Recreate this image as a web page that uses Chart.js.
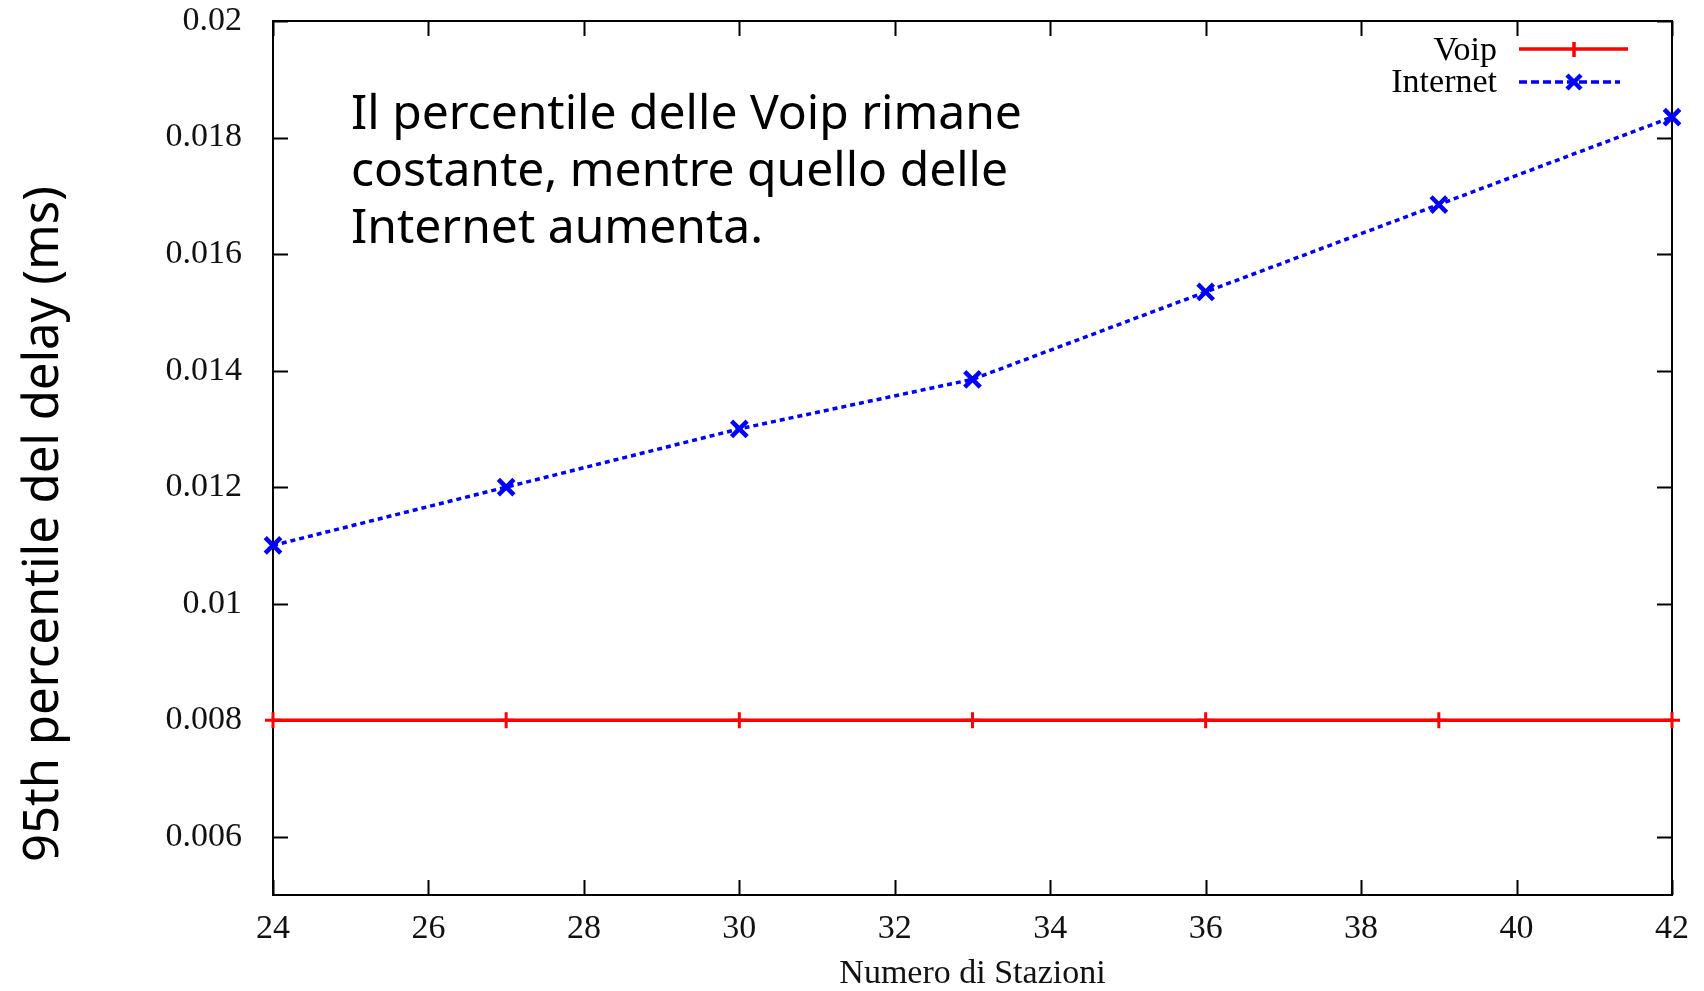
<!DOCTYPE html>
<html>
<head>
<meta charset="utf-8">
<script src="https://cdn.jsdelivr.net/npm/chart.js@4/dist/chart.umd.min.js"></script>
<style>
    html, body { margin: 0; padding: 0; background: #fff; }
    #wrap { width: 1704px; height: 991px; }
</style>
</head>
<body>
<div id="wrap"><canvas id="delay-chart" width="1704" height="991"></canvas></div>
<script>
// numero di stazioni e 95-esimo percentile del ritardo
const stazioni = [24, 27, 30, 33, 36, 39, 42];
const voipDelay = [0.008, 0.008, 0.008, 0.008, 0.008, 0.008, 0.008];
const internetDelay = [0.011, 0.012, 0.013, 0.01385, 0.01535, 0.01685, 0.01835];

const xTicks = [24, 26, 28, 30, 32, 34, 36, 38, 40, 42];
const yTicks = [0.006, 0.008, 0.01, 0.012, 0.014, 0.016, 0.018, 0.02];

const yTitle = '95th percentile del delay (ms)';
const noteLines = [
    'Il percentile delle Voip rimane',
    'costante, mentre quello delle',
    'Internet aumenta.'
];

const SERIF = '"Liberation Serif", "Times New Roman", serif';
const HAND = '"Comic Sans MS", "Noto Sans", sans-serif';

function toPoints(xs, ys) {
    return xs.map((x, i) => ({ x: x, y: ys[i] }));
}

// gnuplot-like frame with inward ticks on all four sides
const frameTicks = {
    id: 'frameTicks',
    beforeDatasetsDraw(chart) {
        const { ctx, chartArea: a, scales } = chart;
        const len = 15;
        ctx.save();
        ctx.strokeStyle = '#000';
        ctx.lineWidth = 2;
        ctx.strokeRect(a.left, a.top, a.right - a.left, a.bottom - a.top);
        ctx.beginPath();
        xTicks.forEach(v => {
            const px = Math.round(scales.x.getPixelForValue(v)) + 0.5;
            ctx.moveTo(px, a.bottom); ctx.lineTo(px, a.bottom - len);
            ctx.moveTo(px, a.top); ctx.lineTo(px, a.top + len);
        });
        yTicks.forEach(v => {
            const py = Math.round(scales.y.getPixelForValue(v)) + 0.5;
            ctx.moveTo(a.left, py); ctx.lineTo(a.left + len, py);
            ctx.moveTo(a.right, py); ctx.lineTo(a.right - len, py);
        });
        ctx.stroke();
        ctx.restore();
    }
};

// key in the top right corner: label first, then the line sample
const gnuKey = {
    id: 'gnuKey',
    afterDatasetsDraw(chart) {
        const { ctx } = chart;
        const textRight = 1497, x0 = 1519, mid = 1574;
        ctx.save();
        ctx.font = '34px ' + SERIF;
        ctx.fillStyle = '#000';
        ctx.textAlign = 'right';
        ctx.textBaseline = 'middle';
        ctx.fillText('Voip', textRight, 51);
        ctx.fillText('Internet', textRight, 83);

        ctx.strokeStyle = '#ff0000';
        ctx.lineWidth = 3.5;
        ctx.beginPath();
        ctx.moveTo(x0, 49); ctx.lineTo(1628, 49);
        ctx.moveTo(mid, 42); ctx.lineTo(mid, 57);
        ctx.stroke();

        ctx.strokeStyle = '#0000ff';
        ctx.lineWidth = 3.5;
        ctx.setLineDash([8, 4]);
        ctx.beginPath();
        ctx.moveTo(x0, 82); ctx.lineTo(1620, 82);
        ctx.stroke();
        ctx.setLineDash([]);
        ctx.lineWidth = 4.5;
        ctx.beginPath();
        ctx.moveTo(mid - 7, 75); ctx.lineTo(mid + 7, 89);
        ctx.moveTo(mid + 7, 75); ctx.lineTo(mid - 7, 89);
        ctx.stroke();
        ctx.restore();
    }
};

// handwritten note inside the plot and the rotated y title
const noteText = {
    id: 'noteText',
    afterDraw(chart) {
        const { ctx } = chart;
        ctx.save();
        ctx.font = '48px ' + HAND;
        ctx.fillStyle = '#000';
        ctx.textAlign = 'left';
        ctx.textBaseline = 'alphabetic';
        noteLines.forEach((line, i) => ctx.fillText(line, 351, 129 + i * 57));

        ctx.translate(44, 524);
        ctx.rotate(-Math.PI / 2);
        ctx.font = '49px ' + HAND;
        ctx.textAlign = 'center';
        ctx.textBaseline = 'middle';
        ctx.fillText(yTitle, 0, 0);
        ctx.restore();
    }
};

const ctx = document.getElementById('delay-chart').getContext('2d');
new Chart(ctx, {
    type: 'line',
    data: {
        datasets: [{
            label: 'Voip',
            data: toPoints(stazioni, voipDelay),
            borderColor: '#ff0000',
            backgroundColor: '#ff0000',
            borderWidth: 3.5,
            pointStyle: 'cross',
            pointRadius: 8,
            pointBorderWidth: 3,
            tension: 0,
            clip: false
        }, {
            label: 'Internet',
            data: toPoints(stazioni, internetDelay),
            borderColor: '#0000ff',
            backgroundColor: '#0000ff',
            borderWidth: 3.5,
            borderDash: [5, 4],
            pointStyle: 'crossRot',
            pointRadius: 11,
            pointBorderWidth: 4.5,
            tension: 0,
            clip: false
        }]
    },
    options: {
        responsive: false,
        animation: false,
        layout: { padding: { top: 21, right: 32, left: 0, bottom: 0 } },
        plugins: {
            legend: { display: false },
            tooltip: { enabled: false }
        },
        scales: {
            x: {
                type: 'linear',
                min: 24,
                max: 42,
                afterFit: s => { s.height = 96; },
                afterBuildTicks: s => { s.ticks = xTicks.map(v => ({ value: v })); },
                grid: { display: false },
                border: { display: false },
                ticks: {
                    color: '#111',
                    padding: 6,
                    maxRotation: 0,
                    font: { family: SERIF, size: 34 }
                },
                title: {
                    display: true,
                    text: 'Numero di Stazioni',
                    color: '#111',
                    padding: { top: 0, bottom: 0 },
                    font: { family: SERIF, size: 34, lineHeight: 1.0 }
                }
            },
            y: {
                type: 'linear',
                min: 0.005,
                max: 0.02,
                afterFit: s => {
                    s.width = 273;
                    s.paddingTop = 0;
                    s.paddingBottom = 0;
                },
                afterBuildTicks: s => { s.ticks = yTicks.map(v => ({ value: v })); },
                grid: { display: false },
                border: { display: false },
                ticks: {
                    color: '#111',
                    padding: 23,
                    font: { family: SERIF, size: 34 },
                    callback: v => String(parseFloat(v.toFixed(3)))
                }
            }
        }
    },
    plugins: [frameTicks, gnuKey, noteText]
});
</script>
</body>
</html>
